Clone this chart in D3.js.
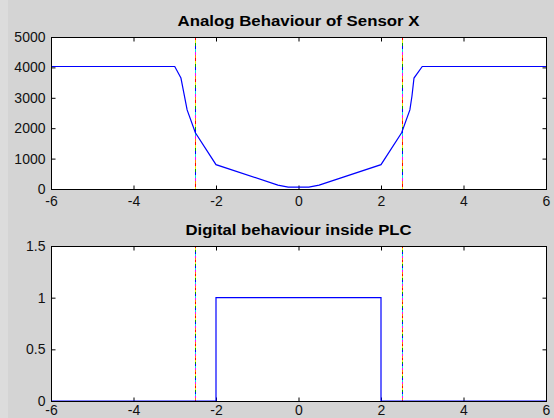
<!DOCTYPE html>
<html>
<head>
<meta charset="utf-8">
<script src="https://d3js.org/d3.v7.min.js"></script>
<style>
  body { margin: 0; background: #d4d4d4; }
  svg { display: block; font-family: "Liberation Sans", Arial, sans-serif; }
</style>
</head>
<body>
<svg width="554" height="418"></svg>
<script>
// data
var analogX = [-6, -3, -2.85, -2.8, -2.7, -2.5, -2, -0.5, -0.25, 0.25, 0.5, 2, 2.5, 2.7, 2.75, 2.8, 3, 6];
var analogY = [4030, 4030, 3650, 3300, 2600, 1850, 800, 130, 60, 60, 130, 800, 1850, 2600, 3050, 3650, 4030, 4030];
var digitalX = [-6, -2, -2, 2, 2, 6];
var digitalY = [0, 0, 1, 1, 0, 0];
var thresholds = [-2.5, 2.5];
var xTicks = [-6, -4, -2, 0, 2, 4, 6];
var analogTicks = [0, 1000, 2000, 3000, 4000, 5000];
var digitalTicks = [0, 0.5, 1, 1.5];
var markerColors = ["#ff0000", "#e8e800", "#00a000", "#0000ff", "#00e0e0", "#ff00ff", "#ff8000"];

var svg = d3.select("svg");
svg.append("rect").attr("width", 554).attr("height", 418).attr("fill", "#d4d4d4");
svg.append("rect").attr("width", 8).attr("height", 418).attr("fill", "#dcdcdc");

function fmt(d) { return String(d); }

function panel(opts) {
    var left = 51, right = 546, top = opts.top, bottom = opts.bottom;
    var x = d3.scaleLinear().domain([-6, 6]).range([left, right]);
    var y = d3.scaleLinear().domain(opts.yDomain).range([bottom, top]);
    var g = svg.append("g");

    g.append("rect")
        .attr("x", left).attr("y", top)
        .attr("width", right - left).attr("height", bottom - top)
        .attr("fill", "#fff");

    // ticks on all four sides, pointing inward
    g.append("g").attr("transform", "translate(0," + (bottom + 0.5) + ")")
        .call(d3.axisBottom(x).tickValues(xTicks).tickSizeInner(-4).tickSizeOuter(0).tickPadding(opts.xPad).tickFormat(fmt));
    g.append("g").attr("transform", "translate(0," + (top + 0.5) + ")")
        .call(d3.axisTop(x).tickValues(xTicks).tickSizeInner(-4).tickSizeOuter(0).tickFormat(""));
    g.append("g").attr("transform", "translate(" + (left + 0.5) + ",0)")
        .call(d3.axisLeft(y).tickValues(opts.yTicks).tickSizeInner(-4).tickSizeOuter(0).tickPadding(6).tickFormat(fmt));
    g.append("g").attr("transform", "translate(" + (right + 0.5) + ",0)")
        .call(d3.axisRight(y).tickValues(opts.yTicks).tickSizeInner(-4).tickSizeOuter(0).tickFormat(""));
    g.selectAll(".domain").remove();
    g.selectAll(".tick text").attr("fill", "#111").style("font-size", "14px");
    g.selectAll(".tick line").attr("stroke", "#000");

    // threshold markers: short segments cycling through several colours
    var y0 = Math.round(y(opts.yDomain[1])), y1 = Math.round(y(opts.yDomain[0]));
    var segs = d3.range(y0, y1, opts.dash);
    thresholds.forEach(function(t) {
        var px = Math.round(x(t));
        g.selectAll(null)
            .data(segs)
            .enter().append("rect")
            .attr("x", px).attr("width", 1)
            .attr("y", function(d) { return d; })
            .attr("height", function(d) { return Math.min(opts.dash, y1 - d); })
            .attr("fill", function(d, i) { return markerColors[i % markerColors.length]; });
    });

    var line = d3.line().x(function(d) { return x(d[0]); }).y(function(d) { return y(d[1]); });
    g.append("path")
        .datum(d3.zip(opts.xs, opts.ys))
        .attr("d", line)
        .attr("fill", "none")
        .attr("stroke", "#0000ff")
        .attr("stroke-width", 1.2);

    g.append("rect")
        .attr("x", left + 0.5).attr("y", top + 0.5)
        .attr("width", right - left).attr("height", bottom - top)
        .attr("fill", "none").attr("stroke", "#000").attr("stroke-width", 1);

    svg.append("text")
        .attr("x", (left + right) / 2).attr("y", top - 11)
        .attr("text-anchor", "middle")
        .attr("textLength", opts.titleWidth).attr("lengthAdjust", "spacingAndGlyphs")
        .style("font-size", "14.5px").style("font-weight", "bold")
        .text(opts.title);
}

panel({
    top: 37, bottom: 189, yDomain: [0, 5000], yTicks: analogTicks, xPad: 7,
    xs: analogX, ys: analogY, dash: 3, title: "Analog Behaviour of Sensor X", titleWidth: 242
});
panel({
    top: 246, bottom: 401, yDomain: [0, 1.5], yTicks: digitalTicks, xPad: 4,
    xs: digitalX, ys: digitalY, dash: 2, title: "Digital behaviour inside PLC", titleWidth: 226
});
</script>
</body>
</html>
